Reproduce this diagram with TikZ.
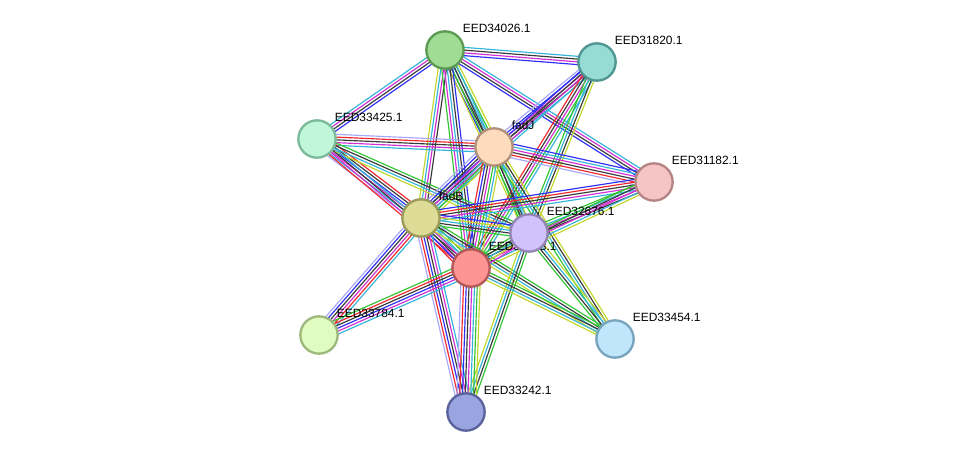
\documentclass[tikz,border=0pt]{standalone}
\usepackage{fontspec}
\setmainfont{Liberation Sans}
\usetikzlibrary{calc}
\definecolor{evgreen}{HTML}{33c433}
\definecolor{evred}{HTML}{f0282d}
\definecolor{evblue}{HTML}{2f2ff5}
\definecolor{evblack}{HTML}{3a3a3a}
\definecolor{evpink}{HTML}{d22fd2}
\definecolor{evcyan}{HTML}{33b4d8}
\definecolor{evlime}{HTML}{c2d62c}
\definecolor{evlav}{HTML}{a8a8fc}
% node fills and rims
\definecolor{f34026}{HTML}{a0dc94}\definecolor{r34026}{HTML}{5c9a52}
\definecolor{f31820}{HTML}{96dcd4}\definecolor{r31820}{HTML}{4f9591}
\definecolor{f33425}{HTML}{c0f6da}\definecolor{r33425}{HTML}{7cbb99}
\definecolor{ffadJ}{HTML}{fddcbe}\definecolor{rfadJ}{HTML}{b2917a}
\definecolor{f31182}{HTML}{f6c4c4}\definecolor{r31182}{HTML}{b58484}
\definecolor{ffadB}{HTML}{dcdc96}\definecolor{rfadB}{HTML}{9a9a5a}
\definecolor{f33573}{HTML}{fc9494}\definecolor{r33573}{HTML}{b35858}
\definecolor{f32676}{HTML}{d2c2fc}\definecolor{r32676}{HTML}{9384b5}
\definecolor{f33784}{HTML}{e0fcc0}\definecolor{r33784}{HTML}{9fb87e}
\definecolor{f33454}{HTML}{c0e6fc}\definecolor{r33454}{HTML}{79a4bd}
\definecolor{f33242}{HTML}{9aa4e0}\definecolor{r33242}{HTML}{5a629c}

\pgfdeclarelayer{edges}
\pgfsetlayers{edges,main}

\tikzset{
  prot/.style={circle,minimum size=1.12cm,inner sep=0pt,line width=2pt},
  plab/.style={anchor=west,inner sep=0.5pt,font=\fontsize{10.2}{12}\selectfont},
  evline/.style={line width=1pt}
}

% one evidence line per colour, side by side
\newcommand\evlink[3]{%
  \foreach \c [count=\n] in {#3} {\xdef\evn{\n}}%
  \foreach \c [count=\i] in {#3} {%
    \pgfmathsetmacro\off{(\i-(\evn+1)/2)*2.35}%
    \draw[\c,evline] ($(#1)!\off pt!90:(#2)$) -- ($(#2)!\off pt!-90:(#1)$);
  }}

\newcommand\prot[5]{%
  \node[prot,fill=f#4,draw=r#4] (#1) at (#2,#3) {};
  \node[plab] (#1lab) at (#2+17,#3-22) {#5};}

\begin{document}
\begin{tikzpicture}[x=0.03cm,y=-0.03cm]
  \useasboundingbox (0,0) rectangle (975,458);

  % proteins
  \prot{p34026}{445}{50}{34026}{EED34026.1}
  \prot{p31820}{597}{62}{31820}{EED31820.1}
  \prot{p33425}{317}{139}{33425}{EED33425.1}
  \prot{fadJ}{494}{147}{fadJ}{fadJ}
  \prot{p31182}{654}{182}{31182}{EED31182.1}
  \prot{fadB}{421}{218}{fadB}{fadB}
  \prot{p33573}{471}{268}{33573}{EED33573.1}
  \prot{p32676}{529}{233}{32676}{EED32676.1}
  \prot{p33784}{319}{335}{33784}{EED33784.1}
  \prot{p33454}{615}{339}{33454}{EED33454.1}
  \prot{p33242}{466}{412}{33242}{EED33242.1}

  \begin{pgfonlayer}{edges}
  \evlink{p34026}{p31820}{evblue,evpink,evblack,evcyan}
  \evlink{p34026}{p33425}{evcyan,evpink,evblack,evblue}
  \evlink{p34026}{fadJ}{evblue,evblack,evcyan,evgreen,evlime}
  \evlink{p34026}{p31182}{evblue,evblack,evpink,evcyan}
  \evlink{p34026}{fadB}{evlime,evcyan,evpink,evblack}
  \evlink{p34026}{p32676}{evlime,evgreen,evblack,evcyan}
  \evlink{p34026}{p33573}{evgreen,evpink,evcyan,evblack,evblue}
  \evlink{p31820}{fadJ}{evlav,evblue,evpink,evblack,evcyan}
  \evlink{p31820}{fadB}{evblue,evblack,evpink,evcyan}
  \evlink{p31820}{p33573}{evred,evblack,evpink,evgreen,evcyan}
  \evlink{p31820}{p32676}{evgreen,evcyan,evblack,evlime}
  \evlink{p33425}{fadJ}{evcyan,evpink,evblack,evred,evlav}
  \evlink{p33425}{fadB}{evlav,evcyan,evpink,evblue,evblack,evred}
  \evlink{p33425}{p32676}{evlime,evcyan,evblack,evgreen}
  \evlink{p33425}{p33573}{evred,evpink,evblack,evcyan}
  \evlink{fadJ}{p31182}{evlav,evred,evblack,evpink,evcyan,evblue}
  \evlink{fadJ}{fadB}{evlav,evblue,evblack,evpink,evcyan,evgreen,evlime}
  \evlink{fadJ}{p32676}{evgreen,evblack,evcyan,evlime}
  \evlink{fadJ}{p33573}{evred,evblue,evblack,evpink,evgreen,evcyan,evlime}
  \evlink{fadJ}{p33454}{evgreen,evcyan,evblack,evlime}
  \evlink{p31182}{fadB}{evblue,evred,evblack,evpink,evcyan}
  \evlink{p31182}{p32676}{evgreen,evcyan,evpink,evblack}
  \evlink{p31182}{p33573}{evgreen,evblack,evpink,evcyan,evlime}
  \evlink{fadB}{p32676}{evgreen,evblack,evcyan,evlime,evblue}
  \evlink{fadB}{p33573}{evred,evblue,evblack,evpink,evcyan,evgreen,evlav}
  \evlink{fadB}{p33784}{evlav,evblue,evblack,evpink,evred,evcyan}
  \evlink{fadB}{p33454}{evlime,evcyan,evblack,evgreen}
  \evlink{fadB}{p33242}{evlav,evred,evblue,evblack,evpink,evcyan}
  \evlink{p32676}{p33573}{evgreen,evblack,evcyan,evlime,evpink}
  \evlink{p32676}{p33454}{evgreen,evblack,evcyan,evlime}
  \evlink{p32676}{p33242}{evlime,evcyan,evblack,evgreen}
  \evlink{p33573}{p33784}{evgreen,evred,evblack,evblue,evpink,evcyan}
  \evlink{p33573}{p33454}{evlime,evcyan,evblack,evgreen}
  \evlink{p33573}{p33242}{evlav,evred,evblue,evblack,evpink,evcyan,evgreen,evlime}
  \end{pgfonlayer}
\end{tikzpicture}
\end{document}
